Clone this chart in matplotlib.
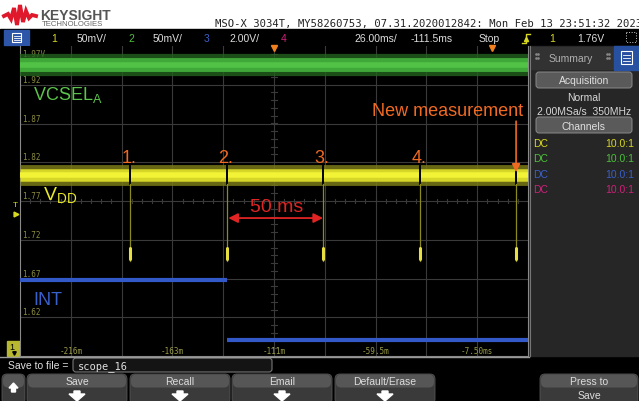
import numpy as np
import matplotlib.pyplot as plt
from matplotlib.patches import Rectangle, FancyBboxPatch, Polygon

plt.rcParams['font.family'] = ['Liberation Sans', 'DejaVu Sans']

# scope settings (ch1 scale is used for the screen)
t_center = -111.5   # ms
t_scale = 26.0      # ms/div
v_scale = 0.05      # V/div
v_top = 1.97

time_ticks = [-215.5, -163.5, -111.5, -59.5, -7.5]
time_labels = ['-216m', '-163m', '-111m', '-59.5m', '-7.50ms']
volt_ticks = [1.97, 1.92, 1.87, 1.82, 1.77, 1.72, 1.67, 1.62]
volt_labels = ['1.97V', '1.92', '1.87', '1.82', '1.77', '1.72', '1.67', '1.62']

pulse_times = [-185.0, -135.7, -86.4, -36.8, 12.4]
pulse_names = ['1.', '2.', '3.', '4.']
vdd_level = 1.804
vdd_dip = 1.692
vcsel_level = 1.945
int_edges = [-241.5, -135.7, 18.5]
int_levels = [1.668, 1.591]

W, H = 639, 402
fig = plt.figure(figsize=(W / 100, H / 100), dpi=100)
fig.patch.set_facecolor('black')

# ---- frame / UI in pixel coords
ui = fig.add_axes([0, 0, 1, 1])
ui.set_xlim(0, W)
ui.set_ylim(H, 0)
ui.axis('off')

ui.add_patch(Rectangle((0, 0), W, 30, color='white'))
# keysight logo
wx = [4, 8, 11, 14, 17, 20, 23, 26, 29, 32, 36]
wy = [17, 15, 20, 9, 26, 6, 23, 12, 19, 16, 17]
ui.plot(wx, wy, color='#e0182c', lw=2.8, solid_joinstyle='miter')
ui.text(40, 19.5, 'KEYSIGHT', fontsize=10, fontweight='bold', color='#555555', va='baseline')
ui.text(42, 26.5, 'TECHNOLOGIES', fontsize=5.6, color='#666666', va='baseline')
ui.text(215, 27, 'MSO-X 3034T, MY58260753, 07.31.2020012842: Mon Feb 13 23:51:32 2023',
        fontsize=7.6, family='DejaVu Sans Mono', color='#222222', va='baseline')

# status bar
ui.add_patch(Rectangle((0, 30), W, 17, color='black'))
ui.add_patch(Rectangle((4, 31), 25, 15, color='#2d55a8'))
ui.add_patch(Rectangle((12, 34), 9, 9, fill=False, ec='white', lw=0.8))
for yy in [36.5, 38.5, 40.5]:
    ui.plot([13.5, 19.5], [yy, yy], color='white', lw=0.6)
status = [(51, '1', '#d8d820'), (77, '50mV/', '#dddddd'), (128, '2', '#4cbf3a'),
          (153, '50mV/', '#dddddd'), (204, '3', '#3a5fc8'), (229, '2.00V/', '#dddddd'),
          (281, '4', '#d0207a'), (354, '26.00ms/', '#dddddd'), (411, '-111.5ms', '#dddddd'),
          (479, 'Stop', '#dddddd'), (549, '1', '#d8d820'), (577, '1.76V', '#dddddd')]
for x, s, c in status:
    ui.text(x, 39.5, s, fontsize=7.5, color=c, va='center')
# rising edge trigger symbol
ui.plot([522, 526, 526, 530], [44, 44, 35, 35], color='#d8d820', lw=1)
ui.plot([526], [39.5], marker='^', ms=3, color='#d8d820')
ui.add_patch(Rectangle((626, 33), 10, 10, fill=False, ec='#cccccc', lw=0.7, ls=':'))

# right summary panel
ui.add_patch(Rectangle((529, 47), 110, 310, color='#262626'))
ui.plot([529.5, 529.5], [47, 357], color='#777777', lw=0.8)
ui.add_patch(Rectangle((531, 48), 82, 22, color='#323232'))
ui.text(571, 59, 'Summary', fontsize=7.5, color='#b0b0b0', ha='center', va='center')
for gx in [536, 607]:
    ui.plot([gx, gx + 2, gx, gx + 2], [55, 55, 59, 59], ls='none', marker='s', ms=0.8, color='#888888')
ui.add_patch(Rectangle((614, 47), 25, 24, color='#2850a0'))
ui.add_patch(Rectangle((621, 52), 11, 13, fill=False, ec='white', lw=0.8))
for yy in [55.5, 58.5, 61.5]:
    ui.plot([623, 630], [yy, yy], color='white', lw=0.6)
for yb, lab in [(73, 'Acquisition'), (118, 'Channels')]:
    ui.add_patch(FancyBboxPatch((536, yb), 96, 16, boxstyle='round,pad=0,rounding_size=3',
                                fc='#5a5a5a', ec='#8a8a8a', lw=0.7))
    ui.text(584, yb + 8.5, lab, fontsize=7.5, color='#e0e0e0', ha='center', va='center')
ui.text(584, 98, 'Normal', fontsize=7.5, color='#d8d8d8', ha='center', va='center')
ui.text(584, 112, '2.00MSa/s  350MHz', fontsize=7.5, color='#d8d8d8', ha='center', va='center')
ch_colors = ['#d8d820', '#4cbf3a', '#3a5fc8', '#d0207a']
for i, c in enumerate(ch_colors):
    yy = 144 + i * 15.3
    ui.text(533, yy, 'DC', fontsize=7.5, color=c, va='center')
    ui.text(634, yy, '10.0:1', fontsize=7.5, color=c, va='center', ha='right')

# left margin markers
ui.text(15.5, 206, 'T', fontsize=6, color='#d8d820', ha='center', va='center')
ui.plot([15.5], [215], marker='>', ms=3.5, color='#d8d820')
ui.add_patch(Rectangle((7, 342), 13, 15, color='#b8b830'))
ui.text(12, 348, '1', fontsize=6.5, color='black', ha='center', va='center')
ui.plot([14], [354], marker='v', ms=2.5, color='black')

# bottom softkeys
ui.plot([0, 529], [357.5, 357.5], color='#9a9a9a', lw=1)
ui.text(8, 366, 'Save to file =', fontsize=7.5, color='#e0e0e0', va='center')
ui.add_patch(FancyBboxPatch((73, 359), 199, 14, boxstyle='round,pad=0,rounding_size=3',
                            fc='#141414', ec='#777777', lw=0.8))
ui.text(78, 366.5, 'scope_16', fontsize=7.5, family='DejaVu Sans Mono', color='#e0e0e0', va='center')

buttons = [(27, 'Save'), (130, 'Recall'), (232, 'Email'), (335, 'Default/Erase')]


def softkey(x0, w):
    ui.add_patch(FancyBboxPatch((x0, 375), w, 30, boxstyle='round,pad=0,rounding_size=5',
                                fc='#3a3a3a', ec='#555555', lw=0.6))
    ui.add_patch(FancyBboxPatch((x0 + 1, 375.5), w - 2, 13, boxstyle='round,pad=0,rounding_size=5',
                                fc='#565656', ec='none'))


def down_arrow(cx):
    ui.add_patch(Polygon([[cx - 3, 392], [cx + 3, 392], [cx + 3, 395], [cx + 8, 395],
                          [cx, 402], [cx - 8, 395], [cx - 3, 395]], color='white'))


softkey(2, 23)
ui.add_patch(Polygon([[13.5, 384], [18, 389], [15.5, 389], [15.5, 393], [11.5, 393],
                      [11.5, 389], [9, 389]], color='white'))
for x0, lab in buttons:
    softkey(x0, 100)
    ui.text(x0 + 50, 382.5, lab, fontsize=7.5, color='#dddddd', ha='center', va='center')
    down_arrow(x0 + 50)
softkey(540, 98)
ui.text(589, 382.5, 'Press to', fontsize=7.5, color='#dddddd', ha='center', va='center')
ui.text(589, 396, 'Save', fontsize=7.5, color='#dddddd', ha='center', va='center')

# ---- scope screen
t0 = t_center - 5 * t_scale
t1 = t_center + 5 * t_scale
v0 = v_top - 8 * v_scale
ax = fig.add_axes([20 / W, 1 - 357 / H, 508 / W, 310 / H])
ax.set_facecolor('black')
ax.set_xlim(t0, t1)
ax.set_ylim(v0, v_top)
ax.set_xticks([])
ax.set_yticks([])
for s in ax.spines.values():
    s.set_color('#8a8a8a')
    s.set_linewidth(0.8)
ax.spines['top'].set_visible(False)

grid_c = '#3a3a3a'
for k in range(1, 10):
    ax.axvline(t0 + k * t_scale, color=grid_c, lw=0.8, zorder=1)
for k in range(1, 8):
    ax.axhline(v0 + k * v_scale, color=grid_c, lw=0.8, zorder=1)
# center ticks
vc = v_top - 4 * v_scale
for k in range(-25, 26):
    tt = t_center + k * t_scale / 5
    ax.plot([tt, tt], [vc - 0.003, vc + 0.003], color=grid_c, lw=0.8, zorder=1)
for k in range(-20, 21):
    vv = vc + k * v_scale / 5
    ax.plot([t_center - 1.3, t_center + 1.3], [vv, vv], color=grid_c, lw=0.8, zorder=1)

for v, lab in zip(volt_ticks, volt_labels):
    off = -0.0045 if lab.endswith('V') else 0.001
    ax.text(t0 + 1.0, v + off, lab, fontsize=5.5, family='DejaVu Sans Mono',
            color='#8c8c40', va='top' if off < 0 else 'bottom', zorder=2)
for t, lab in zip(time_ticks, time_labels):
    ax.text(t, v0 + 0.0015, lab, fontsize=5.5, family='DejaVu Sans Mono',
            color='#9c9c48', ha='center', va='bottom', zorder=2)

# time markers at top
ax.plot([t_center, 0], [v_top - 0.002] * 2, ls='none', marker='v', ms=4,
        color='#f08020', clip_on=False, zorder=6)

# ch2 VCSEL_A
ax.plot([t0, t1], [vcsel_level] * 2, color='#24621f', lw=16, alpha=0.8, solid_capstyle='butt', zorder=3)
ax.plot([t0, t1], [vcsel_level] * 2, color='#3fa838', lw=10, solid_capstyle='butt', zorder=3)
ax.plot([t0, t1], [vcsel_level] * 2, color='#52c246', lw=4, solid_capstyle='butt', zorder=3)

# ch1 VDD
ax.plot([t0, t1], [vdd_level] * 2, color='#7a7a18', lw=15, alpha=0.85, solid_capstyle='butt', zorder=3)
ax.plot([t0, t1], [vdd_level] * 2, color='#d6d628', lw=9, solid_capstyle='butt', zorder=3)
ax.plot([t0, t1], [vdd_level] * 2, color='#f2f236', lw=4, solid_capstyle='butt', zorder=3)
for t in pulse_times:
    ax.plot([t, t], [vdd_level - 0.012, vdd_level + 0.014], color='black', lw=1.4, zorder=4)
    ax.plot([t, t], [vdd_dip, vdd_level - 0.012], color='#8a8a20', lw=0.9, zorder=4)
    ax.plot([t, t], [vdd_dip + 0.003, vdd_dip + 0.018], color='#e8e040', lw=2.2,
            solid_capstyle='round', zorder=4)

# ch3 INT
ax.hlines(int_levels[0], int_edges[0], int_edges[1], color='#3358c8', lw=3, zorder=3)
ax.hlines(int_levels[1], int_edges[1], int_edges[2], color='#3358c8', lw=3, zorder=3)

# annotations
orange = '#f06a22'
for t, lab in zip(pulse_times, pulse_names):
    ax.text(t - 0.6, 1.8205, lab, fontsize=13, color=orange, ha='center', va='baseline', zorder=5)
ax.text(15.9, 1.8815, 'New measurement', fontsize=13, color=orange, ha='right',
        va='baseline', zorder=5)
ax.annotate('', xy=(pulse_times[4], 1.807), xytext=(pulse_times[4], 1.873),
            arrowprops=dict(arrowstyle='-|>', color=orange, lw=1.2, mutation_scale=12,
                            shrinkA=0, shrinkB=0), zorder=5)
ax.text(-110.0, 1.757, '50 ms', fontsize=14, color='#e02424', ha='center', va='baseline', zorder=5)
ax.annotate('', xy=(pulse_times[1] + 0.8, 1.748), xytext=(pulse_times[2], 1.748),
            arrowprops=dict(arrowstyle='<|-|>', color='#e02424', lw=1.3, mutation_scale=14,
                            shrinkA=0, shrinkB=0), zorder=5)

ax.text(-234.8, 1.9016, r'$\mathregular{VCSEL_A}$', fontsize=13, color='#5cc44c', va='baseline', zorder=5)
ax.text(-229.7, 1.7726, r'$\mathregular{V_{DD}}$', fontsize=14, color='#e8e82c', va='baseline', zorder=5)
ax.text(-234.8, 1.637, 'INT', fontsize=13, color='#3a60cc', va='baseline', zorder=5)

fig.savefig('out.png', dpi=100, facecolor=fig.get_facecolor())
